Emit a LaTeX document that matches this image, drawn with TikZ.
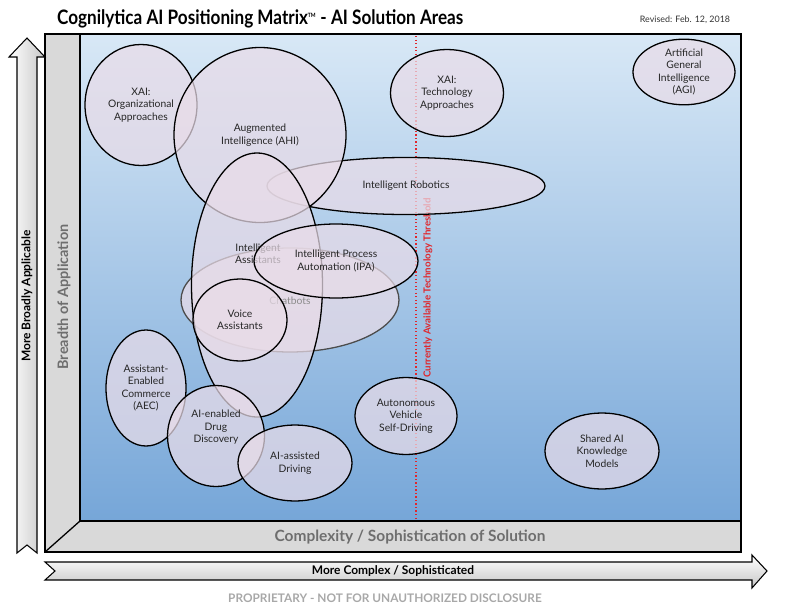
\documentclass[tikz,border=0pt]{standalone}
\usepackage{fontspec}
\setmainfont{Lato}
\newfontfamily\condfont{Lato}[FakeStretch=0.86]
\usetikzlibrary{shapes.geometric}
\definecolor{ellfill}{HTML}{E9DCE8}
\definecolor{framegray}{HTML}{D9D9D9}
\definecolor{blueTop}{HTML}{D8E8F6}
\definecolor{blueBot}{HTML}{76A6D8}
\definecolor{thred}{HTML}{E0262B}
\definecolor{labgray}{HTML}{6E6E6E}
\definecolor{propgray}{HTML}{A8A8A8}
\tikzset{
  ell/.style={ellipse, draw=black, line width=1.1pt, fill=ellfill, fill opacity=0.72, text opacity=1,
    inner sep=0pt, align=center, font=\fontsize{8.8}{10.6}\selectfont, text=black!85},
  bigarrow/.style={draw=black, line width=0.9pt},
}
\begin{document}
\begin{tikzpicture}[x=0.03cm, y=-0.03cm]
\useasboundingbox (0,0) rectangle (800,609);
% title
\node[anchor=west, font=\condfont\bfseries\fontsize{17}{19}\selectfont] (title) at (53,19) {Cognilytica AI Positioning Matrix\textsuperscript{\tiny TM} - AI Solution Areas};
\node[font=\fontsize{7.6}{9}\selectfont, text=black!80] (rev) at (685,20) {Revised: Feb. 12, 2018};
% frame
\fill[framegray] (45,34) rectangle (741,552);
\shade[top color=blueTop, bottom color=blueBot] (80,34) rectangle (741,521);
\draw[line width=1.1pt] (45,34) rectangle (741,552);
\draw[line width=1.3pt] (80,34) rectangle (741,521);
\draw[line width=1.1pt] (45,552) -- (80,521);
\node[rotate=90, font=\bfseries\fontsize{12.3}{14}\selectfont, text=labgray] (breadth) at (64,297) {Breadth of Application};
\node[font=\bfseries\fontsize{13.2}{15}\selectfont, text=labgray] (complex) at (410,537) {Complexity / Sophistication of Solution};
% vertical arrow
\shade[left color=white, right color=black!22, bigarrow] (17,553) -- (17,57) -- (9,57) -- (27,38) -- (45,57) -- (37,57) -- (37,553) -- (27,545) -- cycle;
\node[rotate=90, font=\bfseries\fontsize{10.2}{12}\selectfont] (vlab) at (27,296) {More Broadly Applicable};
% horizontal arrow
\shade[top color=white, bottom color=black!22, bigarrow] (45,562) -- (752,562) -- (752,555) -- (767,571) -- (752,588) -- (752,580) -- (45,580) -- (55,571) -- cycle;
\node[font=\bfseries\fontsize{10.2}{12}\selectfont] (hlab) at (393,571) {More Complex / Sophisticated};
\node[font=\bfseries\fontsize{10.1}{12}\selectfont, text=propgray] (prop) at (385,598) {PROPRIETARY - NOT FOR UNAUTHORIZED DISCLOSURE};
% threshold
\coordinate (thtop) at (416,36);
\coordinate (thbot) at (416,521);
\draw[thred, line width=1pt, dotted] (thtop) -- (thbot);
\node[rotate=90, font=\bfseries\fontsize{8.3}{9}\selectfont, text=thred] (thlab) at (428,288) {Currently Available Technology Threshold};
% ellipses
\node[ell, minimum width=112*0.03cm, minimum height=121*0.03cm] (xaiorg) at (141,105) {XAI:\\Organizational\\Approaches};
\node[ell, minimum width=113*0.03cm, minimum height=87*0.03cm] (xaitech) at (447,93) {XAI:\\Technology\\Approaches};
\node[ell, minimum width=102*0.03cm, minimum height=58*0.03cm] (agi) at (684,72) {Artificial\\General\\Intelligence\\(AGI)};
\node[ell, minimum width=278*0.03cm, minimum height=57*0.03cm] (robot) at (406,186) {Intelligent Robotics};
\node[ell, minimum width=172*0.03cm, minimum height=175*0.03cm] (ahi) at (260,135) {Augmented\\Intelligence (AHI)};
\node[ell, minimum width=218*0.03cm, minimum height=104*0.03cm, draw=black!70] (chat) at (290,300) {\phantom{x}};
\node[ell, minimum width=131*0.03cm, minimum height=264*0.03cm] (ia) at (257,285) {\phantom{x}};
\node[font=\fontsize{8.8}{10.6}\selectfont, text=black!45] (chatlab) at (290,301) {Chatbots};
\node[font=\fontsize{8.8}{10.6}\selectfont, align=center, text=black!85] (ialab) at (258,254) {Intelligent\\Assistants};
\node[ell, minimum width=164*0.03cm, minimum height=74*0.03cm] (ipa) at (336,261) {Intelligent Process\\Automation (IPA)};
\node[ell, minimum width=94*0.03cm, minimum height=82*0.03cm] (voice) at (240,320) {Voice\\Assistants};
\node[ell, minimum width=80*0.03cm, minimum height=116*0.03cm] (aec) at (146,388) {Assistant-\\Enabled\\Commerce\\(AEC)};
\node[ell, minimum width=97*0.03cm, minimum height=101*0.03cm] (drug) at (216,436) {AI-enabled\\Drug\\Discovery\\[6pt]};
\node[ell, minimum width=114*0.03cm, minimum height=76*0.03cm] (drive) at (295,463) {AI-assisted\\Driving};
\node[ell, minimum width=102*0.03cm, minimum height=77*0.03cm] (auto) at (406,416) {Autonomous\\Vehicle\\Self-Driving};
\node[ell, minimum width=114*0.03cm, minimum height=76*0.03cm] (shared) at (602,451) {Shared AI\\Knowledge\\Models};
\end{tikzpicture}
\end{document}
